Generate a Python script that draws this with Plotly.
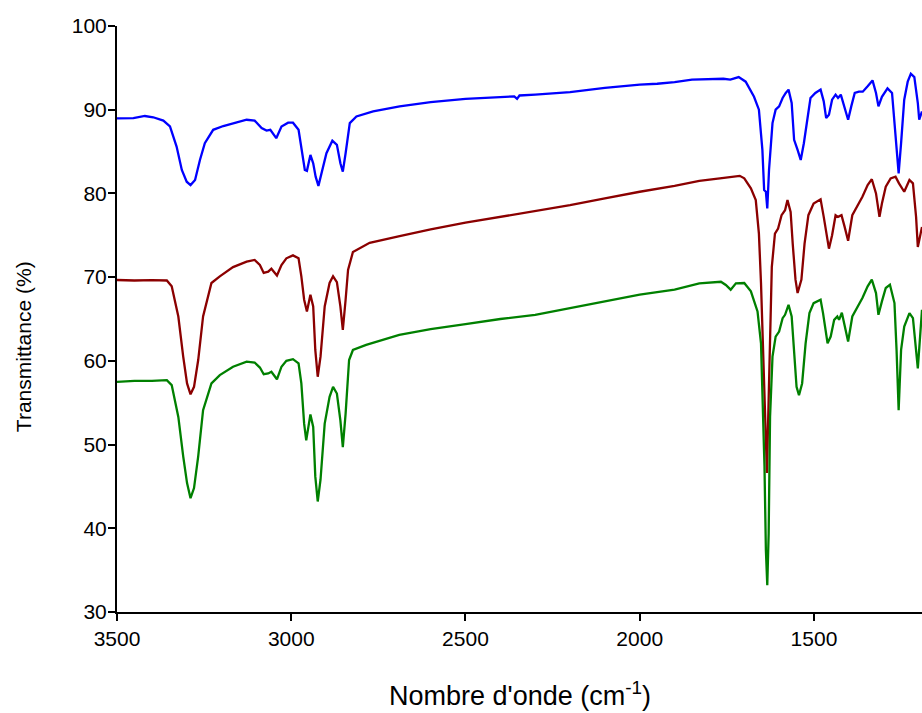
import plotly.graph_objects as go

# ---- Data ----
blue_wn = [3500, 3453, 3420, 3396, 3367, 3348, 3329, 3314, 3300, 3289, 3276, 3262, 3248, 3224, 3195,
           3167, 3128, 3105, 3085, 3071, 3060, 3043, 3028, 3009, 2995, 2979, 2971, 2961, 2955, 2945,
           2937, 2930, 2922, 2914, 2899, 2882, 2869, 2859, 2852, 2844, 2832, 2813, 2765, 2689, 2600,
           2500, 2400, 2360, 2352, 2345, 2300, 2200, 2100, 2000, 1950, 1900, 1850, 1800, 1760, 1740,
           1716, 1696, 1672, 1658, 1653, 1648, 1643, 1638, 1634, 1629, 1619, 1610, 1600, 1590, 1581,
           1573, 1564, 1557, 1547, 1538, 1529, 1519, 1510, 1496, 1481, 1472, 1465, 1457, 1448, 1438,
           1431, 1423, 1414, 1402, 1393, 1383, 1371, 1360, 1346, 1332, 1322, 1315, 1305, 1289, 1276,
           1269, 1263, 1257, 1250, 1241, 1231, 1222, 1212, 1202, 1198, 1190]
blue_T = [88.97, 89.0, 89.25, 89.1, 88.7, 88.0, 85.6, 82.8, 81.4, 81.0, 81.6, 84.0, 86.0, 87.6, 88.05,
          88.4, 88.8, 88.7, 87.8, 87.5, 87.6, 86.6, 88.0, 88.45, 88.45, 87.6, 85.2, 82.8, 82.7, 84.6,
          83.6, 82.0, 80.9, 82.4, 84.8, 86.3, 85.8, 83.6, 82.6, 84.8, 88.4, 89.2, 89.8, 90.4, 90.9,
          91.3, 91.5, 91.6, 91.3, 91.7, 91.8, 92.1, 92.6, 93.0, 93.1, 93.3, 93.6, 93.7, 93.7, 93.6,
          93.9, 93.35, 91.55, 90.0, 88.0, 85.2, 80.4, 80.2, 78.2, 82.8, 88.4, 90.0, 90.4, 91.4, 92.0,
          92.4, 90.8, 86.4, 85.2, 84.0, 86.0, 89.2, 91.4, 92.0, 92.4, 91.0, 89.0, 89.4, 91.2, 91.8,
          91.4, 91.8, 90.4, 88.8, 90.4, 92.0, 92.15, 92.15, 92.8, 93.5, 92.0, 90.4, 91.55, 92.55, 92.0,
          88.8, 85.2, 82.4, 86.0, 91.2, 93.35, 94.3, 93.9, 90.8, 88.8, 89.8]

red_wn = [3500, 3450, 3400, 3357, 3343, 3324, 3310, 3299, 3289, 3279, 3267, 3253, 3229, 3205, 3167,
          3128, 3105, 3090, 3079, 3066, 3057, 3041, 3028, 3014, 2995, 2979, 2971, 2963, 2955, 2945,
          2937, 2931, 2924, 2916, 2904, 2890, 2880, 2869, 2859, 2852, 2844, 2837, 2823, 2775, 2689,
          2600, 2500, 2400, 2300, 2200, 2100, 2000, 1900, 1829, 1770, 1713, 1700, 1681, 1667, 1658,
          1652, 1646, 1641, 1635, 1629, 1621, 1612, 1603, 1593, 1583, 1576, 1567, 1561, 1553, 1547,
          1536, 1527, 1516, 1501, 1481, 1472, 1457, 1448, 1438, 1431, 1421, 1412, 1402, 1390, 1380,
          1361, 1346, 1334, 1322, 1312, 1305, 1294, 1280, 1266, 1256, 1241, 1226, 1216, 1207, 1202, 1190]
red_T = [69.66, 69.6, 69.65, 69.6, 68.9, 65.3, 60.5, 57.3, 56.0, 56.9, 60.1, 65.3, 69.3, 70.1, 71.2,
         71.85, 72.05, 71.45, 70.5, 70.65, 71.0, 70.2, 71.45, 72.25, 72.6, 72.25, 70.1, 67.3, 65.9, 67.9,
         66.5, 61.3, 58.1, 60.5, 66.5, 69.3, 70.1, 69.4, 66.5, 63.7, 67.3, 70.85, 73.0, 74.1, 74.9,
         75.7, 76.5, 77.2, 77.9, 78.6, 79.4, 80.2, 80.9, 81.5, 81.8, 82.1, 81.8, 80.6, 79.2, 75.2,
         69.3, 61.3, 53.3, 46.6, 57.3, 71.2, 75.2, 75.8, 77.4, 78.0, 79.2, 77.8, 74.0, 69.7, 68.1,
         69.7, 74.0, 77.4, 78.8, 79.3, 77.2, 73.4, 75.0, 77.4, 77.2, 77.4, 76.0, 74.35, 77.4, 78.2,
         79.6, 81.0, 81.7, 80.0, 77.2, 78.8, 80.8, 81.8, 82.0, 81.2, 80.2, 81.6, 81.2, 77.2, 73.6, 76.0]

green_wn = [3500, 3450, 3400, 3357, 3343, 3324, 3310, 3299, 3289, 3279, 3267, 3253, 3229, 3205, 3167,
            3128, 3105, 3090, 3079, 3066, 3057, 3041, 3028, 3014, 2995, 2979, 2971, 2963, 2957, 2945,
            2937, 2931, 2924, 2916, 2904, 2890, 2880, 2869, 2859, 2852, 2844, 2834, 2823, 2785, 2690,
            2600, 2500, 2400, 2300, 2200, 2100, 2000, 1950, 1900, 1829, 1767, 1753, 1739, 1724, 1700,
            1681, 1662, 1652, 1647, 1642, 1638, 1634, 1630, 1626, 1619, 1610, 1600, 1590, 1583, 1573,
            1564, 1557, 1550, 1543, 1534, 1524, 1513, 1501, 1481, 1474, 1461, 1452, 1442, 1433, 1428,
            1420, 1412, 1402, 1390, 1380, 1361, 1346, 1334, 1322, 1315, 1305, 1294, 1282, 1269, 1263,
            1257, 1250, 1241, 1226, 1216, 1202, 1190]
green_T = [57.5, 57.6, 57.6, 57.7, 57.1, 53.3, 48.6, 45.4, 43.6, 44.8, 48.6, 54.1, 57.3, 58.3, 59.3,
           59.9, 59.8, 59.2, 58.4, 58.5, 58.7, 57.8, 59.3, 60.0, 60.2, 59.7, 57.3, 52.5, 50.5, 53.6,
           52.1, 46.2, 43.2, 45.8, 52.5, 55.7, 56.9, 56.1, 52.9, 49.7, 53.7, 60.1, 61.3, 61.9, 63.1,
           63.8, 64.4, 65.0, 65.5, 66.3, 67.1, 67.9, 68.2, 68.5, 69.26, 69.45, 69.06, 68.5, 69.26, 69.3,
           68.3, 65.9, 62.1, 55.3, 47.4, 37.4, 33.2, 39.4, 53.3, 60.5, 62.9, 63.5, 65.1, 65.5, 66.7,
           65.3, 60.5, 56.9, 55.9, 57.3, 62.1, 65.7, 66.9, 67.3, 65.7, 62.1, 62.9, 64.9, 65.3, 64.9,
           65.75, 64.3, 62.3, 65.3, 66.1, 67.5, 68.9, 69.7, 68.1, 65.5, 67.1, 68.7, 69.1, 66.9, 61.3,
           54.1, 61.3, 64.1, 65.7, 65.1, 59.1, 66.1]

x_ticks = [3500, 3000, 2500, 2000, 1500]
y_ticks = [30, 40, 50, 60, 70, 80, 90, 100]

FONT = "Arial, Liberation Sans, sans-serif"

fig = go.Figure()
for wn, T, col, name in [(blue_wn, blue_T, "#0000FF", "Spectre 1"),
                         (red_wn, red_T, "#8B0000", "Spectre 2"),
                         (green_wn, green_T, "#008000", "Spectre 3")]:
    fig.add_trace(go.Scatter(x=wn, y=T, mode="lines", name=name,
                             line=dict(color=col, width=2.3)))

axis_common = dict(showline=True, linecolor="black", linewidth=2, ticks="outside",
                   ticklen=7, tickwidth=2, tickcolor="black", showgrid=False, zeroline=False,
                   mirror=False, tickfont=dict(family=FONT, size=21, color="black"))

fig.update_xaxes(range=[3500, 1190], tickvals=x_ticks, ticktext=[str(v) for v in x_ticks],
                 **axis_common)
fig.update_yaxes(range=[30, 100], tickvals=y_ticks, ticktext=[str(v) for v in y_ticks],
                 ticklabelstandoff=-3, **axis_common)

fig.add_annotation(text="Transmittance (%)", xref="paper", yref="paper", x=0, y=0.452,
                   xanchor="center", yanchor="middle", xshift=-94, textangle=-90,
                   showarrow=False, font=dict(family=FONT, size=21, color="black"))
fig.add_annotation(text="Nombre d'onde (cm<sup>-1</sup>)", xref="paper", yref="paper",
                   x=0.5, y=-0.14, xanchor="center", yanchor="middle",
                   showarrow=False, font=dict(family=FONT, size=27, color="black"))

fig.update_layout(width=922, height=713, margin=dict(l=117, r=0, t=26, b=101),
                  plot_bgcolor="white", paper_bgcolor="white", showlegend=False)

fig.write_html("out.html", config={"displayModeBar": False},
               post_script="document.body.style.margin='0';document.body.style.overflow='hidden';")
